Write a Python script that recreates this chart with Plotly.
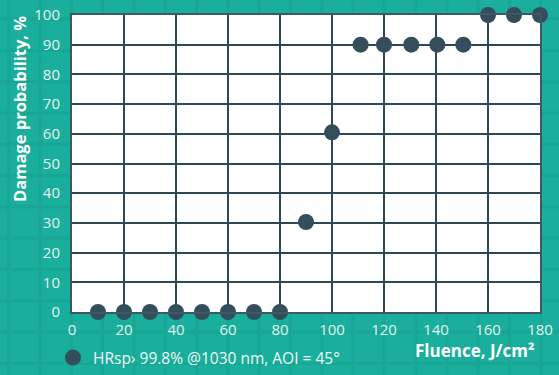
import plotly.graph_objects as go

# ---- data ----
fluence = [10, 20, 30, 40, 50, 60, 70, 80, 90, 100, 111, 120, 130.5, 140.5, 150.5, 160, 170, 180]
damage_prob = [0, 0, 0, 0, 0, 0, 0, 0, 30.3, 60.5, 90, 90, 90, 90, 90, 100, 100, 100]
series_name = "HRsp› 99.8% @1030 nm, AOI = 45°"
x_ticks = [0, 20, 40, 60, 80, 100, 120, 140, 160, 180]
y_ticks = [0, 10, 20, 30, 40, 50, 60, 70, 80, 90, 100]

W, H = 559, 375
ML, MR, MT, MB = 72, 19, 15, 63
PW, PH = W - ML - MR, H - MT - MB
PX0, PX1, PY0, PY1 = ML, W - MR, MT, H - MB

TEAL = "#1aae9c"
DARK = "#344e5b"
GRID = "#2f4855"
TICK = "#e4f3f0"


def px2x(px):
    return (px - ML) / PW


def py2y(py):
    return (H - MB - py) / PH


fig = go.Figure()
fig.add_trace(go.Scatter(
    x=fluence, y=damage_prob, mode="markers", name=series_name,
    marker=dict(size=16, color=DARK), cliponaxis=False,
))

# subtle background tile pattern (decoration), kept outside the plot area
step = 31.3
path = []


def seg(x0, y0, x1, y1):
    path.append(f"M{px2x(x0):.4f},{py2y(y0):.4f} L{px2x(x1):.4f},{py2y(y1):.4f}")


x = 40 - step * 2
while x < W + step:
    if PX0 - 2 < x < PX1 + 2:
        seg(x, -5, x, PY0)
        seg(x, PY1, x, H + 5)
    else:
        seg(x, -5, x, H + 5)
    x += step
y = 113 - step * 4
while y < H + step:
    if PY0 - 2 < y < PY1 + 2:
        seg(-5, y, PX0, y)
        seg(PX1, y, W + 5, y)
    else:
        seg(-5, y, W + 5, y)
    y += step
fig.add_shape(type="path", path=" ".join(path), xref="paper", yref="paper",
              line=dict(color="rgba(0,70,60,0.07)", width=3), layer="below")

fig.update_layout(
    width=W, height=H,
    margin=dict(l=ML, r=MR, t=MT, b=MB, autoexpand=False),
    paper_bgcolor=TEAL, plot_bgcolor="white",
    font=dict(family="Open Sans", color=TICK, size=15),
    showlegend=True,
    legend=dict(orientation="h", x=px2x(53), y=py2y(358), xanchor="left", yanchor="middle",
                bgcolor="rgba(0,0,0,0)", font=dict(size=15.5, color="#eef8f6")),
    xaxis=dict(range=[0, 180], tickvals=x_ticks, showgrid=True, gridcolor=GRID, gridwidth=2,
               showline=True, linecolor="#3d5866", linewidth=2, mirror=True, zeroline=False,
               ticks="", tickfont=dict(size=15, color=TICK), ticklabelstandoff=3),
    yaxis=dict(range=[0, 100], tickvals=y_ticks, showgrid=True, gridcolor=GRID, gridwidth=2,
               showline=True, linecolor="#3d5866", linewidth=2, mirror=True, zeroline=False,
               ticks="", tickfont=dict(size=15, color=TICK), ticklabelstandoff=7),
    annotations=[
        dict(text="<b>Damage probability, %</b>", x=px2x(19), y=py2y(109), xref="paper", yref="paper",
             xanchor="center", yanchor="middle",
             showarrow=False, textangle=-90, font=dict(size=16.5, color="white")),
        dict(text="<b>Fluence, J/cm²</b>", x=px2x(536), y=py2y(350), xref="paper", yref="paper",
             xanchor="right", yanchor="middle", showarrow=False,
             font=dict(size=17, color="white")),
    ],
)

fig.write_html("out.html", config={"displayModeBar": False},
               post_script="document.body.style.margin='0';")
